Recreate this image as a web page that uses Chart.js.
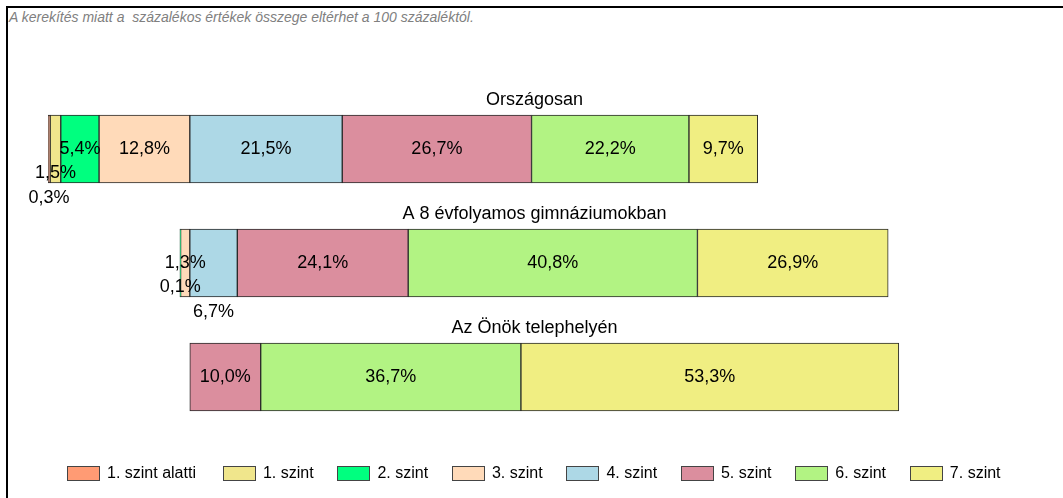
<!DOCTYPE html>
<html>
<head>
<meta charset="utf-8">
<script src="https://cdn.jsdelivr.net/npm/chart.js@4"></script>
<style>
  body { margin: 0; background: #fff; font-family: "Liberation Sans", Arial, sans-serif; }
  #wrap { position: relative; width: 1063px; height: 498px; overflow: hidden; }
  #frame { position: absolute; left: 6px; top: 6px; width: 1100px; height: 600px;
           border-left: 2px solid #000; border-top: 2px solid #000; }
  #note { position: absolute; left: 9px; top: 9px; font-size: 14px; font-style: italic; color: #808080; white-space: nowrap; }
  #chart { position: absolute; left: 0; top: 0; }
  #legend { position: absolute; left: 67px; top: 464px; display: flex; white-space: nowrap; }
  .item { flex: none; display: flex; align-items: center; font-size: 16px; color: #000; margin-right: 23.8px; }
  .item:first-child { margin-right: 27px; }
  .box { width: 31px; height: 13px; border: 1px solid #444; margin-right: 7px; flex: none; }
</style>
</head>
<body>
<div id="wrap">
  <div id="frame"></div>
  <div id="note">A kerekítés miatt a&nbsp; százalékos értékek összege eltérhet a 100 százaléktól.</div>
  <canvas id="chart" width="1063" height="498"></canvas>
  <div id="legend"></div>
</div>
<script>
//----------------------------------------------
// data
//----------------------------------------------
const categories = ['Országosan', 'A 8 évfolyamos gimnáziumokban', 'Az Önök telephelyén'];
const levels = ['1. szint alatti', '1. szint', '2. szint', '3. szint', '4. szint', '5. szint', '6. szint', '7. szint'];

// where each bar starts (percent units)
const offsets = [0, 18.6, 20.0];

const belowLevel1 = [0.3, 0, 0];
const level1 = [1.5, 0, 0];
const level2 = [5.4, 0.1, 0];
const level3 = [12.8, 1.3, 0];
const level4 = [21.5, 6.7, 0];
const level5 = [26.7, 24.1, 10.0];
const level6 = [22.2, 40.8, 36.7];
const level7 = [9.7, 26.9, 53.3];

const series = [belowLevel1, level1, level2, level3, level4, level5, level6, level7];
const colors = ['#FF9B74', '#F0E68C', '#00FF7F', '#FFDAB9', '#ADD8E6', '#DB8E9E', '#B2F383', '#F0EE82'];

// labels that do not fit get pushed down a row (bar-level : row)
const labelRows = { '0-0': 2, '0-1': 1, '1-2': 1, '1-4': 2 };

//----------------------------------------------
// labels + bar titles
//----------------------------------------------
const labelPlugin = {
  id: 'barLabels',
  afterDatasetsDraw(chart) {
    const ctx = chart.ctx;
    ctx.save();
    ctx.font = '18px "Liberation Sans", Arial, sans-serif';
    ctx.fillStyle = '#000';
    ctx.textAlign = 'center';
    ctx.textBaseline = 'middle';
    chart.data.datasets.forEach((ds, di) => {
      if (di === 0) return;
      chart.getDatasetMeta(di).data.forEach((bar, i) => {
        const v = ds.data[i];
        if (!v) return;
        const row = labelRows[i + '-' + (di - 1)] || 0;
        const x = (bar.x + bar.base) / 2;
        ctx.fillText(v.toFixed(1).replace('.', ',') + '%', x, bar.y + row * 24.5);
      });
    });
    const ys = chart.scales.y;
    categories.forEach((c, i) => {
      ctx.fillText(c, chart.width / 2 + 3, ys.getPixelForValue(i) - 34 - 15);
    });
    ctx.restore();
  }
};

const datasets = [{
  label: 'offset',
  data: offsets,
  backgroundColor: 'rgba(0,0,0,0)',
  borderWidth: 0,
  barThickness: 68
}];
series.forEach((s, k) => {
  datasets.push({
    label: levels[k],
    data: s.map(v => v === 0 ? null : v),
    backgroundColor: colors[k],
    borderColor: '#2a2a2a',
    borderWidth: 1,
    borderSkipped: false,
    barThickness: 68
  });
});

new Chart(document.getElementById('chart').getContext('2d'), {
  type: 'bar',
  data: { labels: categories, datasets: datasets },
  options: {
    indexAxis: 'y',
    responsive: false,
    animation: false,
    devicePixelRatio: 1,
    layout: { padding: { left: 48, right: 22.4, top: 92, bottom: 64 } },
    plugins: { legend: { display: false }, tooltip: { enabled: false } },
    scales: {
      x: { display: false, stacked: true, min: 0, max: 140 },
      y: { display: false, stacked: true }
    }
  },
  plugins: [labelPlugin]
});

//----------------------------------------------
// legend
//----------------------------------------------
const legend = document.getElementById('legend');
levels.forEach((name, k) => {
  const item = document.createElement('div');
  item.className = 'item';
  item.innerHTML = '<span class="box" style="background:' + colors[k] + '"></span>' + name;
  legend.appendChild(item);
});
</script>
</body>
</html>
